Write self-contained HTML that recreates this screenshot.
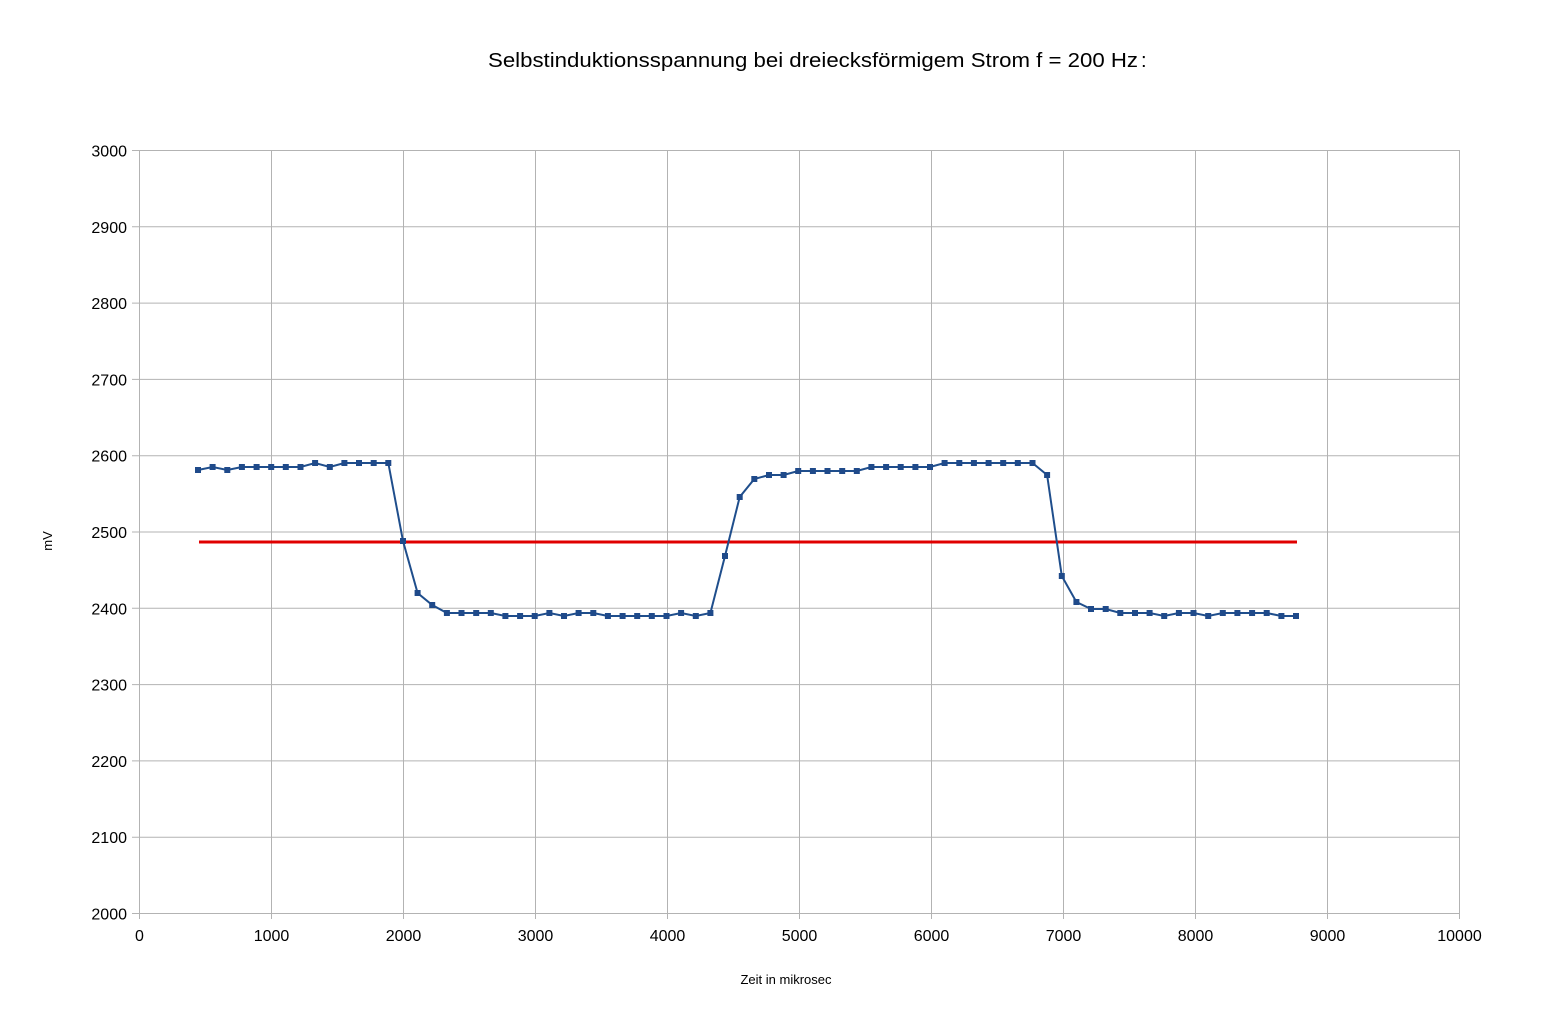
<!DOCTYPE html>
<html><head><meta charset="utf-8"><style>
html,body{margin:0;padding:0;background:#fff;}
svg{display:block;font-family:"Liberation Sans",Arial,sans-serif;}
</style></head><body>
<svg id="c" width="1541" height="1021" xmlns="http://www.w3.org/2000/svg">
<rect width="1541" height="1021" fill="#fff"/>
<text x="488" y="67" font-size="20" textLength="650" lengthAdjust="spacingAndGlyphs">Selbstinduktionsspannung bei dreiecksförmigem Strom f = 200 Hz</text>
<text x="1141" y="67" font-size="20">:</text>
<g id="grid" stroke="#b3b3b3" stroke-width="1"></g>
<g id="lbl" font-size="16" fill="#000"></g>
<text transform="translate(52,541) rotate(-90)" font-size="13" text-anchor="middle">mV</text>
<text x="786" y="984" font-size="13" text-anchor="middle">Zeit in mikrosec</text>
<line x1="199" y1="542" x2="1297" y2="542" stroke="#e00000" stroke-width="3"/>
<polyline id="ser" fill="none" stroke="#1f4e8c" stroke-width="2"/>
<g id="mk" fill="#1f4a8a"></g>
</svg>
<script>
var ns="http://www.w3.org/2000/svg";
function el(p,t,a){var e=document.createElementNS(ns,t);for(var k in a)e.setAttribute(k,a[k]);p.appendChild(e);return e;}
var g=document.getElementById('grid'),l=document.getElementById('lbl');
for(var i=0;i<=10;i++){
 var x=139.5+i*132;
 el(g,'line',{x1:x,y1:150,x2:x,y2:919});
 var t=el(l,'text',{x:x,y:941,'text-anchor':'middle'});t.textContent=i*1000;
 var y=913.5-i*76.3;
 el(g,'line',{x1:132,y1:y,x2:1459,y2:y});
 var t2=el(l,'text',{x:127,y:y+6,'text-anchor':'end'});t2.textContent=2000+i*100;
}
var ys=[470,467,470,467,467,467,467,467,463,467,463,463,463,463,541,593,605,613,613,613,613,616,616,616,613,616,613,613,616,616,616,616,616,613,616,613,556,497,479,475,475,471,471,471,471,471,467,467,467,467,467,463,463,463,463,463,463,463,475,576,602,609,609,613,613,613,616,613,613,616,613,613,613,613,616,616];
var pts=[],mk=document.getElementById('mk');
for(var i=0;i<ys.length;i++){var x=198+i*14.64;pts.push(x.toFixed(1)+','+ys[i]);
 el(mk,'rect',{x:(x-3).toFixed(1),y:ys[i]-3,width:6,height:6});}
document.getElementById('ser').setAttribute('points',pts.join(' '));
</script>
</body></html>
